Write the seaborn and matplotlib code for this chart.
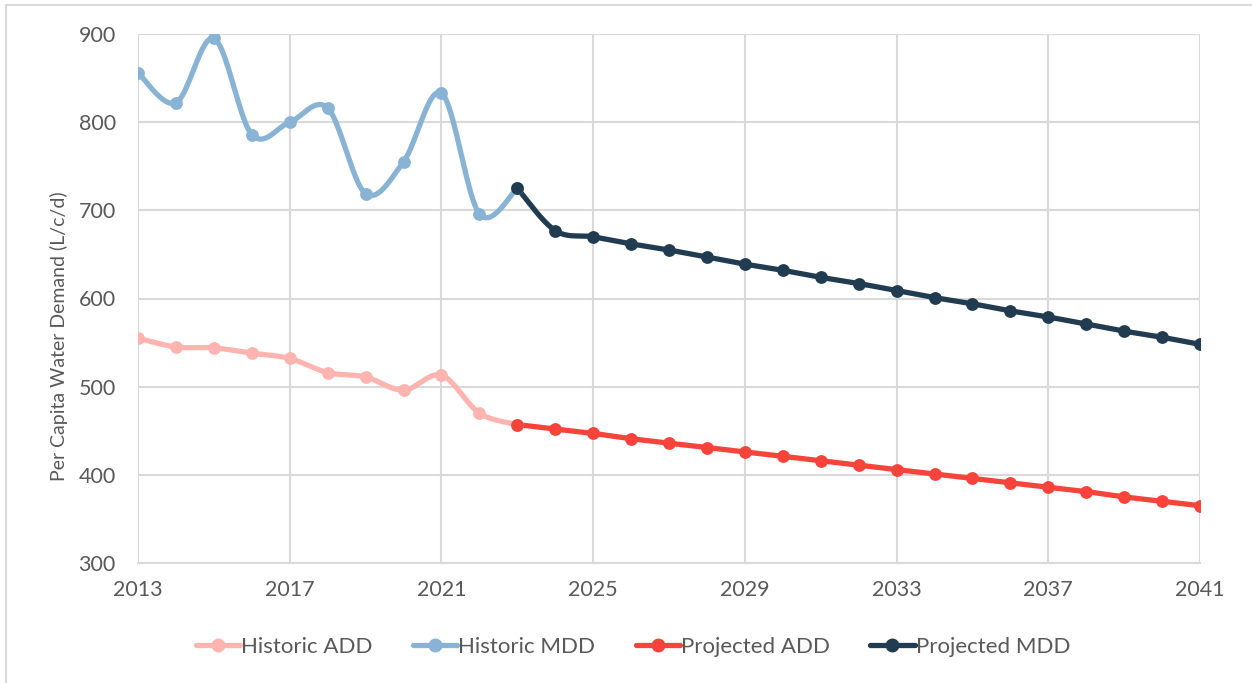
import numpy as np
import pandas as pd
import matplotlib
matplotlib.use("Agg")
import matplotlib.pyplot as plt
from matplotlib.lines import Line2D
from matplotlib.patches import Rectangle
import seaborn as sns

# ---- data ----
hist_years = list(range(2013, 2024))
hist_add = [555, 545, 544, 538, 532, 516, 511, 496, 513, 470, 457]
hist_mdd = [856, 822, 895, 786, 800, 816, 719, 755, 833, 696, 725]

proj_years = list(range(2023, 2042))
proj_add = [457, 452, 447, 441, 436, 431, 426, 421, 416, 411, 406, 401, 396,
            391, 386, 381, 375, 370, 365]
proj_mdd = [725, 677, 670, 662, 655, 647, 639, 632, 624, 617, 609, 601, 594,
            586, 579, 571, 563, 556, 548]

series_names = ["Historic ADD", "Historic MDD", "Projected ADD", "Projected MDD"]
series_colors = ["#FFB4B0", "#89B3D4", "#F7443B", "#213B51"]
x_ticks = list(range(2013, 2042, 4))
y_ticks = list(range(300, 901, 100))

TEXT = "#595959"
GRID = "#D9D9D9"


def smooth(xs, ys, n=24):
    """Catmull-Rom style Bezier smoothing (spreadsheet 'smoothed line')."""
    p = np.column_stack([xs, ys]).astype(float)
    p_ext = np.vstack([p[0], p, p[-1]])
    out = []
    t = np.linspace(0, 1, n)[:, None]
    for i in range(1, len(p_ext) - 2):
        p0, p1, p2, p3 = p_ext[i - 1], p_ext[i], p_ext[i + 1], p_ext[i + 2]
        c1 = p1 + (p2 - p0) / 6.0
        c2 = p2 - (p3 - p1) / 6.0
        seg = ((1 - t) ** 3) * p1 + 3 * ((1 - t) ** 2) * t * c1 \
            + 3 * (1 - t) * t ** 2 * c2 + t ** 3 * p2
        out.append(seg if i == 1 else seg[1:])
    arr = np.vstack(out)
    return arr[:, 0], arr[:, 1]


sns.set_theme(style="white")
plt.rcParams["font.family"] = ["Lato", "DejaVu Sans"]

fig = plt.figure(figsize=(12.52, 6.83), dpi=100)
ax = fig.add_axes([138 / 1252, 1 - 563 / 683, (1200 - 138) / 1252, (563 - 34) / 683])

all_series = [
    (hist_years, hist_add),
    (hist_years, hist_mdd),
    (proj_years, proj_add),
    (proj_years, proj_mdd),
]

LW = 3.8
for (xs, ys), name, col in zip(all_series, series_names, series_colors):
    sx, sy = smooth(xs, ys)
    curve = pd.DataFrame({"year": sx, "value": sy})
    sns.lineplot(data=curve, x="year", y="value", sort=False, estimator=None,
                 color=col, linewidth=LW, ax=ax, zorder=3,
                 solid_capstyle="round")
    pts = pd.DataFrame({"year": xs, "value": ys})
    sns.scatterplot(data=pts, x="year", y="value", color=col, s=85,
                    edgecolor=col, linewidth=0, ax=ax, zorder=4)

ax.set_xlim(2013, 2041)
ax.set_ylim(300, 900)
ax.set_xticks(x_ticks)
ax.set_yticks(y_ticks)
ax.set_xticklabels([str(v) for v in x_ticks])
ax.set_yticklabels([str(v) for v in y_ticks])
ax.grid(True, color=GRID, linewidth=1.5, zorder=0)
ax.set_axisbelow(True)
for side in ["top", "right", "left"]:
    ax.spines[side].set_visible(False)
ax.spines["bottom"].set_color(GRID)
ax.spines["bottom"].set_linewidth(1.5)
ax.tick_params(axis="both", length=0, labelsize=15.5, labelcolor=TEXT)
ax.tick_params(axis="x", pad=12)
ax.tick_params(axis="y", pad=16)
ax.set_xlabel("")
ax.set_ylabel("Per Capita Water Demand (L/c/d)", fontsize=14, color=TEXT)
ax.yaxis.set_label_coords(-(138 - 68) / 1062, (563 - 336) / 529)

handles = [Line2D([0], [0], color=c, linewidth=LW, marker="o", markersize=9,
                  solid_capstyle="round") for c in series_colors]
fig.legend(handles, series_names, loc="center", ncol=4, frameon=False,
           bbox_to_anchor=(633 / 1252, 1 - 647 / 683), fontsize=16,
           labelcolor=TEXT, handlelength=2.0, handletextpad=0.05,
           columnspacing=1.8)

# chart frame (left and top edges visible)
fig.add_artist(Rectangle((6 / 1252, -0.2), 1.5, 0.2 + 1 - 5 / 683,
                         transform=fig.transFigure, fill=False,
                         edgecolor=GRID, linewidth=1.5))

fig.savefig("out.png", dpi=100, facecolor="white")
